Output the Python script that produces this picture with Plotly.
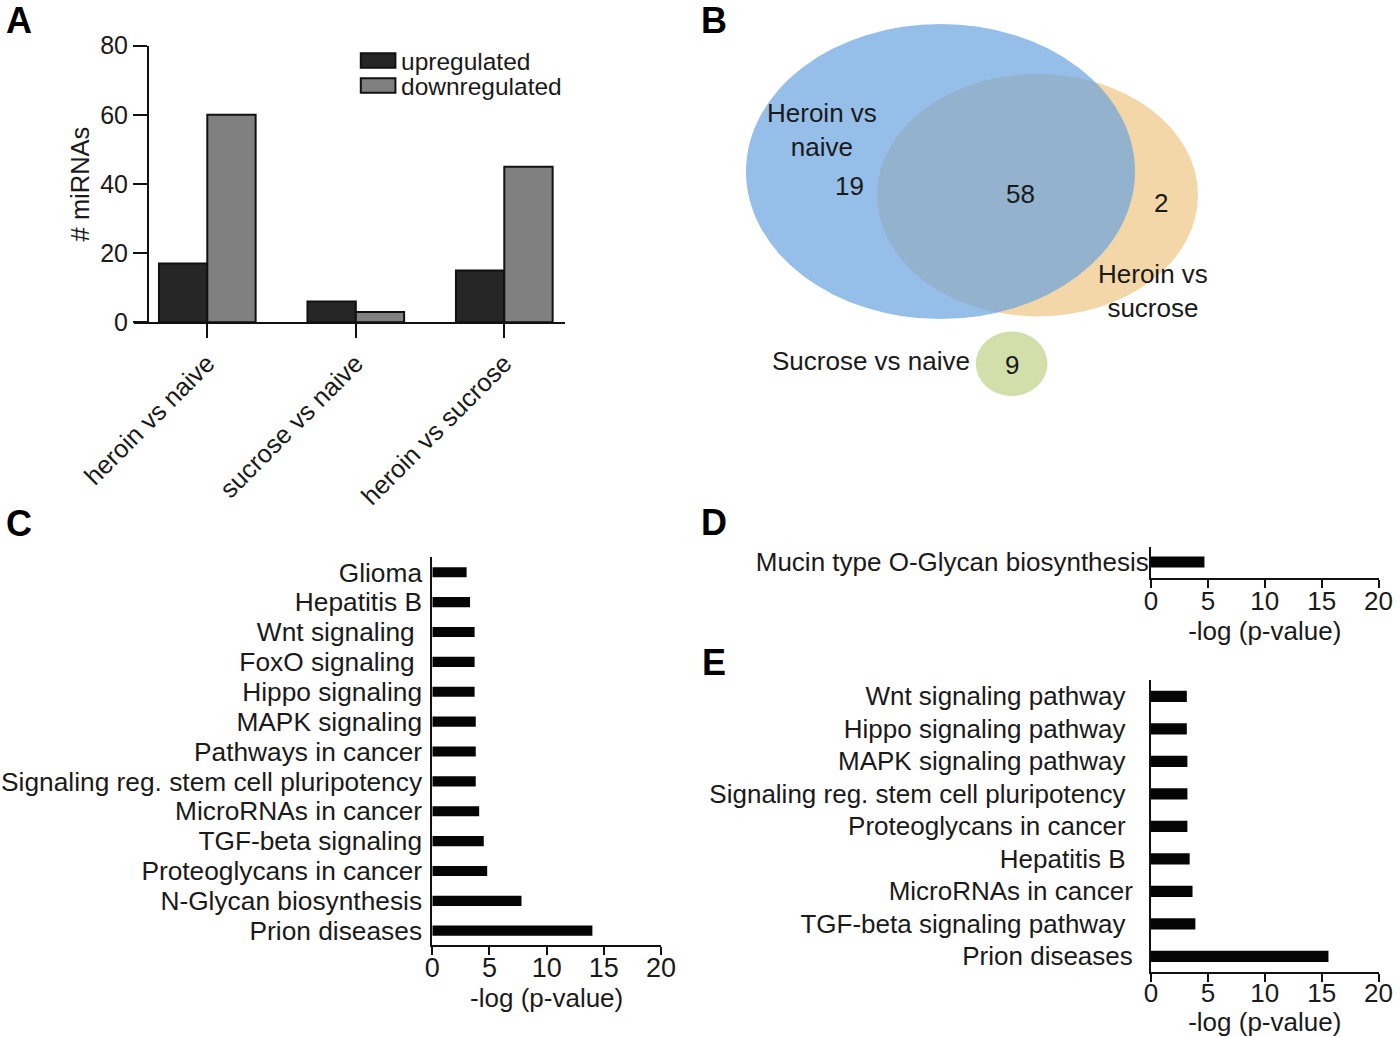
import plotly.graph_objects as go

# ---------------- data ----------------
# Panel A
comparisons = ["heroin vs naive", "sucrose vs naive", "heroin vs sucrose"]
series_names = ["upregulated", "downregulated"]
upregulated = [17, 6, 15]
downregulated = [60, 3, 45]
a_yticks = [0, 20, 40, 60, 80]

# Panel B (Venn)
venn_set_labels = ["Heroin vs<br>naive", "Heroin vs<br>sucrose", "Sucrose vs naive"]
venn_counts = [19, 58, 2, 9]   # heroin-only, shared, heroin-vs-sucrose only, sucrose vs naive

# Panel C
c_pathways = ["Glioma", "Hepatitis B", "Wnt signaling\u00a0", "FoxO signaling\u00a0", "Hippo signaling",
              "MAPK signaling", "Pathways in cancer", "Signaling reg. stem cell pluripotency",
              "MicroRNAs in cancer", "TGF-beta signaling", "Proteoglycans in cancer",
              "N-Glycan biosynthesis", "Prion diseases"]
c_values = [3.0, 3.3, 3.7, 3.7, 3.7, 3.8, 3.8, 3.8, 4.1, 4.5, 4.8, 7.8, 14.0]

# Panel D
d_pathways = ["Mucin type O-Glycan biosynthesis"]
d_values = [4.7]

# Panel E
e_pathways = ["Wnt signaling pathway\u00a0", "Hippo signaling pathway\u00a0", "MAPK signaling pathway\u00a0",
              "Signaling reg. stem cell pluripotency\u00a0", "Proteoglycans in cancer\u00a0",
              "Hepatitis B\u00a0", "MicroRNAs in cancer", "TGF-beta signaling pathway\u00a0",
              "Prion diseases"]
e_values = [3.15, 3.15, 3.2, 3.2, 3.2, 3.4, 3.65, 3.9, 15.6]

p_ticks = [0, 5, 10, 15, 20]
p_title = "-log (p-value)"

# ---------------- layout helpers ----------------
W, H = 1400, 1037
FONT = "Liberation Sans, Arial, Helvetica, sans-serif"
TXT = "#1a1a1a"


def px(x):
    return x / W


def py(y):
    return 1 - y / H


fig = go.Figure()

# ---------- Panel A ----------
fig.add_trace(go.Bar(x=comparisons, y=upregulated, name=series_names[0],
                     marker=dict(color="#262626", line=dict(color="#111111", width=2)),
                     xaxis="x", yaxis="y", showlegend=False))
fig.add_trace(go.Bar(x=comparisons, y=downregulated, name=series_names[1],
                     marker=dict(color="#808080", line=dict(color="#111111", width=2)),
                     xaxis="x", yaxis="y", showlegend=False))

# ---------- Panel C ----------
fig.add_trace(go.Bar(x=c_values, y=c_pathways, orientation="h", width=0.34,
                     marker=dict(color="#050505", line=dict(width=0)),
                     xaxis="x3", yaxis="y3", showlegend=False))
# ---------- Panel D ----------
fig.add_trace(go.Bar(x=d_values, y=d_pathways, orientation="h", width=0.37,
                     marker=dict(color="#050505", line=dict(width=0)),
                     xaxis="x4", yaxis="y4", showlegend=False))
# ---------- Panel E ----------
fig.add_trace(go.Bar(x=e_values, y=e_pathways, orientation="h", width=0.35,
                     marker=dict(color="#050505", line=dict(width=0)),
                     xaxis="x5", yaxis="y5", showlegend=False))

# invisible trace to activate the Venn axes
fig.add_trace(go.Scatter(x=[700, 1400], y=[0, 420], mode="markers", marker=dict(opacity=0),
                         xaxis="x2", yaxis="y2", showlegend=False, hoverinfo="skip"))

axis_line = dict(showline=True, linecolor="#111111", linewidth=2, showgrid=False, zeroline=False)


def tickfont(s):
    return dict(family=FONT, size=s, color=TXT)


layout = dict(
    width=W, height=H,
    margin=dict(l=0, r=0, t=0, b=0, autoexpand=False),
    paper_bgcolor="white", plot_bgcolor="rgba(0,0,0,0)",
    font=dict(family=FONT, color=TXT),
    barmode="group", bargap=0.349, bargroupgap=0,
    # A
    xaxis=dict(domain=[px(134), px(565)], anchor="y", type="category",
               range=[-0.4936, 2.4088], ticks="outside", ticklen=14, tickwidth=2,
               tickcolor="#111111", tickangle=-45, tickfont=tickfont(25.5), **axis_line),
    yaxis=dict(domain=[py(322.3), py(45.7)], anchor="free", position=px(148), range=[0, 80],
               tickvals=a_yticks, ticks="outside", ticklen=14, tickwidth=2, tickcolor="#111111",
               tickfont=tickfont(25), title=dict(text="# miRNAs", font=tickfont(25.5), standoff=2),
               **axis_line),
    # B (Venn)
    xaxis2=dict(domain=[0.5, 1], range=[700, 1400], visible=False, anchor="y2"),
    yaxis2=dict(domain=[py(420), 1], range=[420, 0], visible=False, anchor="x2"),
    # C
    xaxis3=dict(domain=[px(432.3), px(661)], anchor="y3", range=[0, 20], tickvals=p_ticks,
                ticks="outside", ticklen=8, tickwidth=2, tickcolor="#111111",
                tickfont=tickfont(27), ticklabelstandoff=-10,
                title=dict(text=p_title, font=tickfont(26), standoff=2),
                **axis_line),
    yaxis3=dict(domain=[py(945), py(556.7)], anchor="x3", type="category", dtick=1,
                categoryorder="array", categoryarray=c_pathways,
                range=[12.479, -0.522], ticks="", tickfont=tickfont(26.3), ticklabelstandoff=3,
                **axis_line),
    # D
    xaxis4=dict(domain=[px(1151), px(1378.5)], anchor="y4", range=[0, 20], tickvals=p_ticks,
                ticks="outside", ticklen=8, tickwidth=2, tickcolor="#111111",
                tickfont=tickfont(26), ticklabelstandoff=-9,
                title=dict(text=p_title, font=tickfont(26), standoff=3),
                **axis_line),
    yaxis4=dict(domain=[py(577.7), py(547)], anchor="x4", type="category", dtick=1,
                range=[0.523, -0.5], ticks="", tickfont=tickfont(26), ticklabelstandoff=-5,
                **axis_line),
    # E
    xaxis5=dict(domain=[px(1151), px(1378.5)], anchor="y5", range=[0, 20], tickvals=p_ticks,
                ticks="outside", ticklen=8, tickwidth=2, tickcolor="#111111",
                tickfont=tickfont(26), ticklabelstandoff=-12,
                title=dict(text=p_title, font=tickfont(26), standoff=3),
                **axis_line),
    yaxis5=dict(domain=[py(972.3), py(680.4)], anchor="x5", type="category", dtick=1,
                categoryorder="array", categoryarray=e_pathways,
                range=[8.492, -0.492], ticks="", tickfont=tickfont(26), ticklabelstandoff=11,
                **axis_line),
)
fig.update_layout(**layout)

shapes = []
annotations = []

# Panel A legend (boxes + names)
legend_colors = ["#262626", "#808080"]
for i, (name, col) in enumerate(zip(series_names, legend_colors)):
    y0 = 53.3 + i * 25
    shapes.append(dict(type="rect", xref="paper", yref="paper",
                       x0=px(360.8), x1=px(395.4), y0=py(y0 + 14.4), y1=py(y0),
                       fillcolor=col, line=dict(color="#111111", width=2)))
    annotations.append(dict(xref="paper", yref="paper", x=px(399), y=py(y0 + 8),
                            text=name, showarrow=False, xanchor="left", yanchor="middle",
                            font=tickfont(24.5)))

# Panel B: Venn ellipses (on the pixel-scaled Venn axes)
shapes.append(dict(type="circle", xref="x2", yref="y2", x0=877, x1=1198, y0=74, y1=316.4,
                   fillcolor="#F3D7A9", line=dict(width=0), layer="below"))
shapes.append(dict(type="circle", xref="x2", yref="y2", x0=746, x1=1135, y0=24, y1=319,
                   fillcolor="#68A2DE", opacity=0.7, line=dict(width=0), layer="below"))
shapes.append(dict(type="circle", xref="x2", yref="y2", x0=975.8, x1=1047.5, y0=331.5, y1=396,
                   fillcolor="#D2DFAB", line=dict(width=0), layer="below"))

venn_text = [
    (venn_set_labels[0], 822, 130, "center"),
    (venn_set_labels[1], 1153, 291, "center"),
    (venn_set_labels[2], 972, 361.4, "right"),
    (str(venn_counts[0]), 849, 186, "center"),
    (str(venn_counts[1]), 1020.6, 193.6, "center"),
    (str(venn_counts[2]), 1160.5, 203, "center"),
    (str(venn_counts[3]), 1011.7, 365, "center"),
]
for t, x, y, anc in venn_text:
    annotations.append(dict(xref="x2", yref="y2", x=x, y=y, text=t, showarrow=False,
                            xanchor=anc, yanchor="middle", align="center",
                            font=tickfont(26)))

# panel letters
for letter, x, y in [("A", 19, 20.5), ("B", 714, 20.5), ("C", 19, 523), ("D", 714, 522), ("E", 714, 662)]:
    annotations.append(dict(xref="paper", yref="paper", x=px(x), y=py(y), text=f"<b>{letter}</b>",
                            showarrow=False, xanchor="center", yanchor="middle",
                            font=dict(family=FONT, size=36, color="#000000")))

fig.update_layout(shapes=shapes, annotations=annotations)
fig.write_html("out.html", config={"displayModeBar": False},
               post_script="document.body.style.margin='0px';")
